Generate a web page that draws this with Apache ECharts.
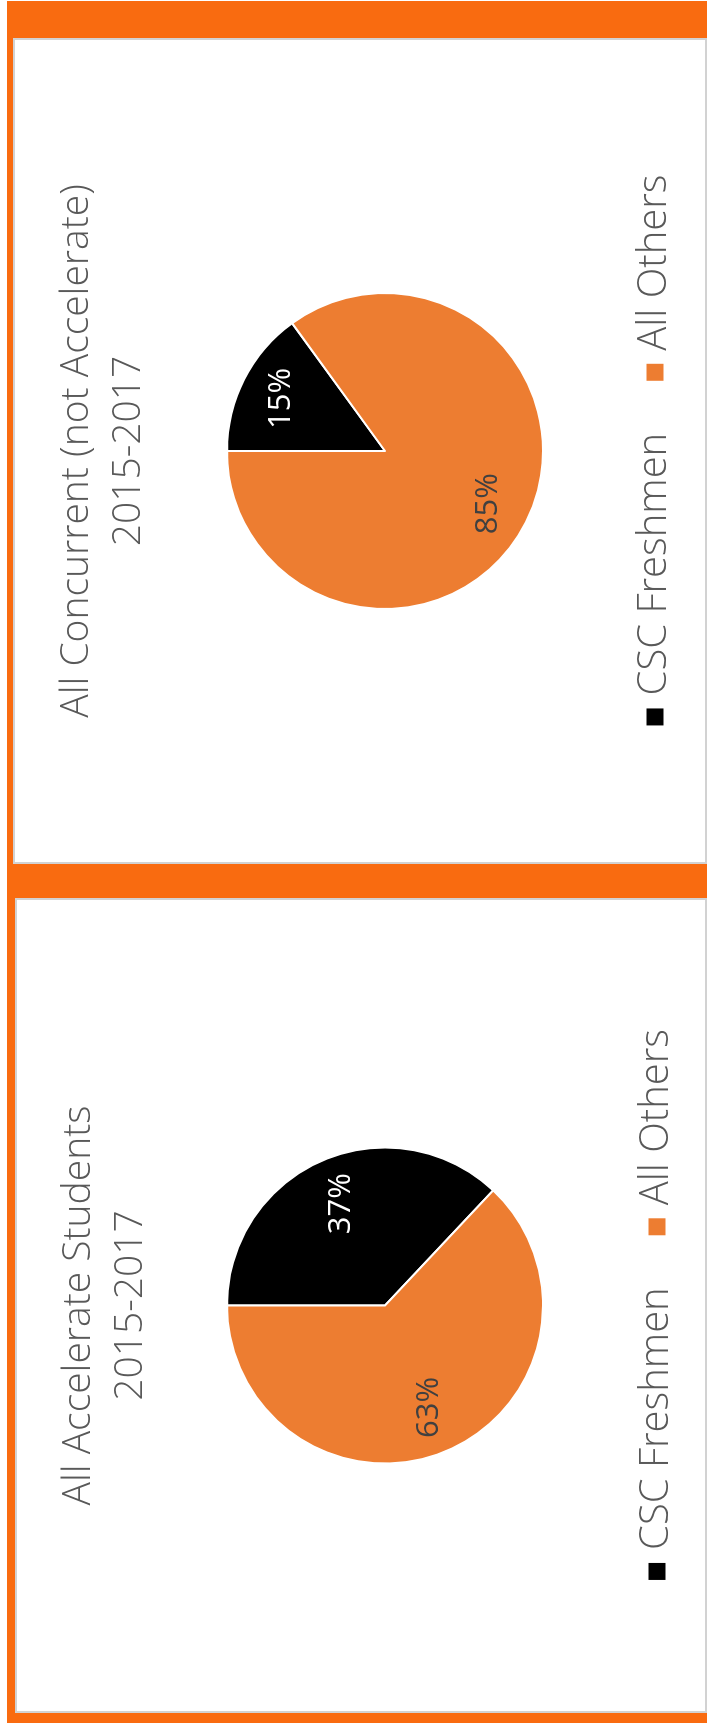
<!DOCTYPE html>
<html>
<head>
<meta charset="utf-8">
<script src="https://cdn.jsdelivr.net/npm/echarts@6/dist/echarts.min.js"></script>
<style>
  html, body { margin: 0; padding: 0; background: #ffffff; }
  body { width: 707px; height: 1723px; position: relative; overflow: hidden; }
  .frame { position: absolute; left: 7px; top: 1px; width: 700px; height: 1722px; background: #F96B10; }
  .panel { position: absolute; background: #ffffff; box-sizing: border-box; border: 2px solid #d2d2d2; }
  .chart { position: absolute; left: 0; top: 0; transform-origin: 0 0; }
</style>
</head>
<body>
<div class="frame"></div>
<div class="panel" style="left:13px;top:38px;width:694px;height:826px"></div>
<div class="panel" style="left:15px;top:898px;width:692px;height:815px"></div>
<!-- each chart is laid out upright, then turned a quarter turn counter-clockwise -->
<div id="chartConcurrent" class="chart" style="width:826px;height:694px;transform:translate(13px,864px) rotate(-90deg)"></div>
<div id="chartAccelerate" class="chart" style="width:815px;height:692px;transform:translate(15px,1713px) rotate(-90deg)"></div>
<script>
// categories shared by both pies
const categories = ['CSC Freshmen', 'All Others'];
// percentage shares, 2015-2017
const concurrentShares = [15, 85];
const accelerateShares = [37, 63];
// chart titles
const concurrentTitle = ['All Concurrent (not Accelerate)', '2015-2017'];
const accelerateTitle = ['All Accelerate Students', '2015-2017'];

const sliceColors = ['#000000', '#ED7D31'];
const labelColors = ['#ffffff', '#404040'];
const FONT = '"Open Sans", "Liberation Sans", sans-serif';
const GREY = '#595959';

function buildOption(titleLines, shares, pieCenterY, labelRing) {
  const sliceData = categories.map((name, i) => ({
    name: name,
    value: shares[i],
    itemStyle: { color: sliceColors[i] }
  }));
  const labelData = categories.map((name, i) => ({
    name: name,
    value: shares[i],
    label: { color: labelColors[i] }
  }));
  return {
    animation: false,
    title: {
      text: titleLines.join('\n'),
      left: 'center',
      top: 33,
      textStyle: {
        fontFamily: FONT,
        fontSize: 39,
        fontWeight: 300,
        lineHeight: 52,
        color: GREY
      }
    },
    legend: {
      data: categories.map((name, i) => ({ name: name, itemStyle: { color: sliceColors[i] } })),
      left: 'center',
      top: 617,
      icon: 'rect',
      itemWidth: 19,
      itemHeight: 19,
      itemGap: 50,
      selectedMode: false,
      textStyle: {
        fontFamily: FONT,
        fontSize: 40,
        fontWeight: 300,
        lineHeight: 40,
        color: GREY,
        padding: [0, 0, 0, 7]
      }
    },
    series: [
      {
        type: 'pie',
        radius: [0, 158],
        center: ['50%', pieCenterY],
        startAngle: 90,
        clockwise: true,
        silent: true,
        label: { show: false },
        labelLine: { show: false },
        itemStyle: { borderColor: '#ffffff', borderWidth: 2 },
        emphasis: { disabled: true },
        data: sliceData
      },
      {
        // transparent ring that only positions the percentage labels
        type: 'pie',
        radius: [0, labelRing],
        center: ['50%', pieCenterY],
        startAngle: 90,
        clockwise: true,
        silent: true,
        legendHoverLink: false,
        itemStyle: { color: 'rgba(0,0,0,0)', borderWidth: 0 },
        emphasis: { disabled: true },
        label: {
          show: true,
          position: 'inside',
          fontFamily: FONT,
          fontSize: 31,
          fontWeight: 400,
          formatter: p => Math.round(p.percent) + '%'
        },
        labelLine: { show: false },
        data: labelData
      }
    ]
  };
}

const c1 = echarts.init(document.getElementById('chartConcurrent'), null, { renderer: 'canvas' });
c1.setOption(buildOption(concurrentTitle, concurrentShares, 372, 226));

const c2 = echarts.init(document.getElementById('chartAccelerate'), null, { renderer: 'canvas' });
c2.setOption(buildOption(accelerateTitle, accelerateShares, 370, 216));
</script>
</body>
</html>
